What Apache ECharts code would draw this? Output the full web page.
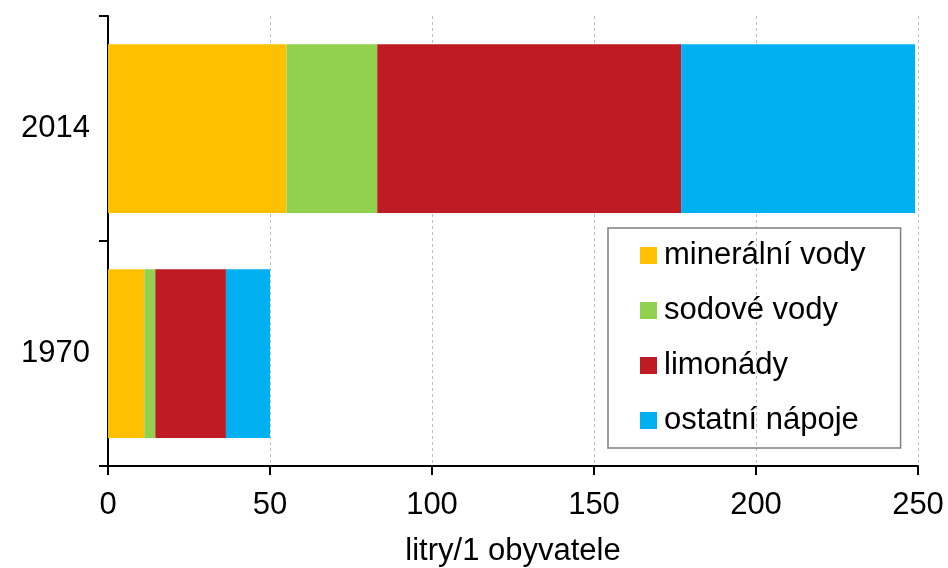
<!DOCTYPE html>
<html>
<head>
<meta charset="utf-8">
<script src="https://cdn.jsdelivr.net/npm/echarts@6/dist/echarts.min.js"></script>
<style>html,body{margin:0;padding:0;background:#fff}#chart{width:948px;height:568px}</style>
</head>
<body>
<div id="chart"></div>
<script>
var years = ['1970', '2014'];
var mineralni = [11.2, 55.1];
var sodove = [3.4, 28.0];
var limonady = [21.8, 93.8];
var ostatni = [13.6, 72.2];
var xTicks = [0, 50, 100, 150, 200, 250];

var chart = echarts.init(document.getElementById('chart'));
var font = 'Liberation Sans, Arial, sans-serif';

function bar(name, data, color) {
    return {
        name: name,
        type: 'bar',
        stack: 'total',
        data: data,
        barWidth: '75%',
        itemStyle: { color: color },
        emphasis: { disabled: true }
    };
}

chart.setOption({
    animation: false,
    grid: { left: 108, right: 30, top: 16, bottom: 102, containLabel: false, outerBoundsMode: 'none' },
    legend: {
        orient: 'vertical',
        left: 608,
        top: 228,
        padding: [12, 35, 12, 32],
        itemGap: 24,
        itemWidth: 17,
        itemHeight: 17,
        icon: 'rect',
        borderColor: '#7f7f7f',
        borderWidth: 1.5,
        textStyle: { fontFamily: font, fontSize: 31, color: '#000', padding: [0, 0, 0, 2] },
        data: ['minerální vody', 'sodové vody', 'limonády', 'ostatní nápoje']
    },
    xAxis: {
        type: 'value',
        min: 0,
        max: 250,
        interval: 50,
        name: 'litry/1 obyvatele',
        nameLocation: 'middle',
        nameGap: 70,
        nameTextStyle: { fontFamily: font, fontSize: 31, color: '#000' },
        axisLine: { show: true, lineStyle: { color: '#000', width: 2 } },
        axisTick: { show: true, length: 9, lineStyle: { color: '#000', width: 2 } },
        axisLabel: {
            fontFamily: font, fontSize: 31, color: '#000', margin: 24,
            formatter: function (v) { return xTicks.indexOf(v) >= 0 ? String(v) : ''; }
        },
        splitLine: { show: true, lineStyle: { color: '#bfbfbf', type: [3, 3], width: 1 } }
    },
    yAxis: {
        type: 'category',
        data: years,
        axisLine: { show: true, lineStyle: { color: '#000', width: 2 } },
        axisTick: { show: true, length: 9, lineStyle: { color: '#000', width: 2 } },
        axisLabel: { fontFamily: font, fontSize: 31, color: '#000', margin: 18 }
    },
    series: [
        bar('minerální vody', mineralni, '#ffc000'),
        bar('sodové vody', sodove, '#92d050'),
        bar('limonády', limonady, '#be1b24'),
        bar('ostatní nápoje', ostatni, '#00b0f0')
    ]
});
</script>
</body>
</html>
